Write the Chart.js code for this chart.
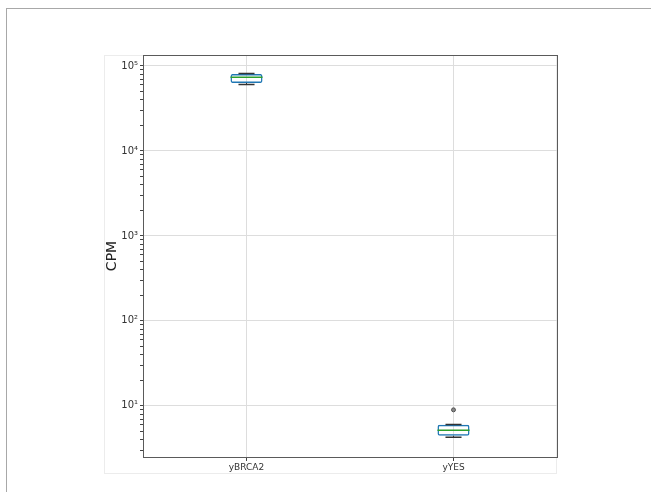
<!DOCTYPE html>
<html>
<head>
<meta charset="utf-8">
<script src="https://cdn.jsdelivr.net/npm/chart.js@4/dist/chart.umd.min.js"></script>
<style>
  body { margin: 0; background: #fff; }
  #wrap { position: relative; width: 651px; height: 492px; }
  .line { position: absolute; }
</style>
</head>
<body>
<div id="wrap">
  <div class="line" style="left:6px;top:8px;width:645px;height:1px;background:#a8a8a8"></div>
  <div class="line" style="left:6px;top:8px;width:1px;height:484px;background:#a8a8a8"></div>
  <div class="line" style="left:104px;top:55px;width:453px;height:419px;border:1px solid #ececec;box-sizing:border-box"></div>
  <canvas id="chart" width="651" height="492" style="position:absolute;left:0;top:0"></canvas>
</div>
<script>
// box plot summary per category
const categories = ["yBRCA2", "yYES"];
const whiskerLow = [60600, 4.26];
const q1 = [63100, 4.44];
const medians = [73600, 5.15];
const q3 = [80500, 5.98];
const whiskerHigh = [81600, 6.05];
const fliers = [null, 8.97];

const yMajorTicks = [10, 100, 1000, 10000, 100000];
const yMin = 2.5;
const yMax = 134700;

const sup = ["⁰", "¹", "²", "³", "⁴", "⁵", "⁶"];

// whiskers, caps and medians drawn on top of the floating bars
const boxPlugin = {
  id: "boxParts",
  afterDatasetsDraw(chart) {
    const ctx = chart.ctx;
    const y = chart.scales.y;
    const meta = chart.getDatasetMeta(0);
    meta.data.forEach((bar, i) => {
      const x = bar.x;
      const w = bar.width;
      ctx.save();
      ctx.strokeStyle = "#333";
      ctx.lineWidth = 1;
      ctx.beginPath();
      ctx.moveTo(x, y.getPixelForValue(q3[i]));
      ctx.lineTo(x, y.getPixelForValue(whiskerHigh[i]));
      ctx.moveTo(x, y.getPixelForValue(q1[i]));
      ctx.lineTo(x, y.getPixelForValue(whiskerLow[i]));
      ctx.stroke();
      ctx.lineWidth = 1.5;
      ctx.beginPath();
      ctx.moveTo(x - w / 4, y.getPixelForValue(whiskerHigh[i]));
      ctx.lineTo(x + w / 4, y.getPixelForValue(whiskerHigh[i]));
      ctx.moveTo(x - w / 4, y.getPixelForValue(whiskerLow[i]));
      ctx.lineTo(x + w / 4, y.getPixelForValue(whiskerLow[i]));
      ctx.stroke();
      ctx.strokeStyle = "#2ca02c";
      ctx.lineWidth = 1.5;
      ctx.beginPath();
      ctx.moveTo(x - w / 2, y.getPixelForValue(medians[i]));
      ctx.lineTo(x + w / 2, y.getPixelForValue(medians[i]));
      ctx.stroke();
      ctx.restore();
    });
    // axes frame
    const a = chart.chartArea;
    ctx.save();
    ctx.strokeStyle = "#5a5a5a";
    ctx.lineWidth = 1;
    ctx.strokeRect(Math.round(a.left) + 0.5, Math.round(a.top) + 0.5,
      Math.round(a.right - a.left), Math.round(a.bottom - a.top));
    ctx.restore();
  }
};

new Chart(document.getElementById("chart"), {
  type: "bar",
  data: {
    labels: categories,
    datasets: [
      {
        data: categories.map((c, i) => [q1[i], q3[i]]),
        backgroundColor: "rgba(0,0,0,0)",
        borderColor: "#1f77b4",
        borderWidth: 1.5,
        borderSkipped: false,
        borderRadius: 2,
        barPercentage: 0.155,
        categoryPercentage: 1,
      },
      {
        type: "line",
        data: fliers,
        showLine: false,
        pointStyle: "circle",
        pointRadius: 2,
        pointBorderColor: "#555",
        pointBackgroundColor: "#888",
        pointBorderWidth: 1,
      },
    ],
  },
  options: {
    responsive: false,
    animation: false,
    layout: { padding: { left: 100, top: 55, right: 94, bottom: 0 } },
    plugins: {
      legend: { display: false },
      tooltip: { enabled: false },
    },
    scales: {
      x: {
        grid: {
          offset: false,
          color: "#dddddd",
          tickColor: "#444",
          tickLength: 4,
        },
        border: { display: false },
        ticks: {
          color: "#333",
          font: { family: "DejaVu Sans", size: 9 },
          padding: 1,
        },
        afterFit(scale) { scale.height = 35; },
      },
      y: {
        type: "logarithmic",
        min: yMin,
        max: yMax,
        afterBuildTicks(scale) {
          const ticks = [];
          for (let e = 0; e <= 5; e++) {
            for (let m = 1; m <= 9; m++) {
              const v = m * Math.pow(10, e);
              if (v >= yMin && v <= yMax) ticks.push({ value: v });
            }
          }
          scale.ticks = ticks;
        },
        afterFit(scale) { scale.width = 43; },
        grid: {
          color: (c) => (c.tick && yMajorTicks.includes(c.tick.value) ? "#dddddd" : "rgba(0,0,0,0)"),
          tickColor: "#444",
          tickLength: 3,
        },
        border: { display: false },
        ticks: {
          autoSkip: false,
          color: "#333",
          font: { family: "DejaVu Sans", size: 10 },
          padding: 2,
          callback: (v) => {
            const idx = yMajorTicks.indexOf(v);
            return idx >= 0 ? "10" + sup[idx + 1] : "";
          },
        },
        title: {
          display: true,
          text: "CPM",
          color: "#222",
          font: { family: "DejaVu Sans", size: 14 },
          padding: { top: 4, bottom: 2 },
        },
      },
    },
  },
  plugins: [boxPlugin],
});
</script>
</body>
</html>
